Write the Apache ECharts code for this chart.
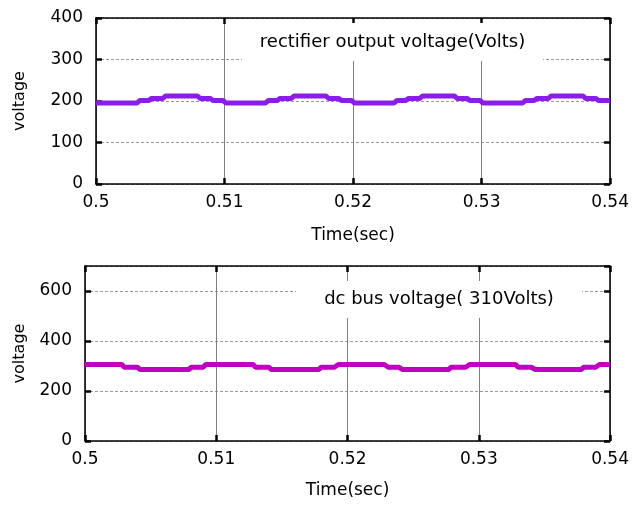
<!DOCTYPE html>
<html>
<head>
<meta charset="utf-8">
<script src="https://cdn.jsdelivr.net/npm/echarts@6/dist/echarts.min.js"></script>
<style>
  html, body { margin: 0; padding: 0; background: #fff; }
  #main { width: 632px; height: 506px; }
</style>
</head>
<body>
<div id="main"></div>
<script>
// x ticks shared by both plots
var timeTicks = [0.5, 0.51, 0.52, 0.53, 0.54];

// rectifier output voltage (top plot)
var recTime = [
  0.5000, 0.5032, 0.5034, 0.5041, 0.5043, 0.5052, 0.5054, 0.5079, 0.5081, 0.5089, 0.5091, 0.5099, 0.5101,
  0.5132, 0.5134, 0.5141, 0.5143, 0.5152, 0.5154, 0.5179, 0.5181, 0.5189, 0.5191, 0.5199, 0.5201,
  0.5232, 0.5234, 0.5241, 0.5243, 0.5252, 0.5254, 0.5279, 0.5281, 0.5289, 0.5291, 0.5299, 0.5301,
  0.5332, 0.5334, 0.5341, 0.5343, 0.5352, 0.5354, 0.5379, 0.5381, 0.5389, 0.5391, 0.5400
];
var recVolt = [
  195, 195, 201, 201, 206, 206, 212, 212, 206, 206, 201, 201, 195,
  195, 201, 201, 206, 206, 212, 212, 206, 206, 201, 201, 195,
  195, 201, 201, 206, 206, 212, 212, 206, 206, 201, 201, 195,
  195, 201, 201, 206, 206, 212, 212, 206, 206, 201, 201
];

// dc bus voltage (bottom plot)
var busTime = [
  0.5000, 0.5028, 0.5030, 0.5040, 0.5042, 0.5079, 0.5081, 0.5090, 0.5092,
  0.5128, 0.5130, 0.5140, 0.5142, 0.5178, 0.5180, 0.5190, 0.5193,
  0.5228, 0.5231, 0.5239, 0.5242, 0.5277, 0.5279, 0.5290, 0.5293,
  0.5328, 0.5330, 0.5340, 0.5343, 0.5378, 0.5380, 0.5389, 0.5392, 0.5400
];
var busVolt = [
  306, 306, 295, 295, 286, 286, 295, 295, 306,
  306, 295, 295, 286, 286, 295, 295, 306,
  306, 295, 295, 286, 286, 295, 295, 306,
  306, 295, 295, 286, 286, 295, 295, 306, 306
];

function pairs(xs, ys) {
  var out = [];
  for (var i = 0; i < xs.length; i++) out.push([xs[i], ys[i]]);
  return out;
}

var FONT = 'DejaVu Sans';
var frame = { show: true, onZero: false, lineStyle: { color: '#000', width: 1.5 } };
var ticks = { show: true, inside: true, length: 6, lineStyle: { color: '#000', width: 2.5 } };

function mainX(grid, gap) {
  return {
    type: 'value', gridIndex: grid, position: 'bottom',
    min: timeTicks[0], max: timeTicks[timeTicks.length - 1], interval: 0.01,
    name: 'Time(sec)', nameLocation: 'middle', nameGap: gap,
    nameTextStyle: { fontSize: 17, color: '#000', fontFamily: FONT },
    axisLine: frame, axisTick: ticks,
    axisLabel: { fontSize: 17, color: '#000', fontFamily: FONT, margin: 10 },
    splitLine: { show: true, lineStyle: { color: '#808080', width: 1 } }
  };
}
function topX(grid) {
  return {
    type: 'value', gridIndex: grid, position: 'top',
    min: 0.5, max: 0.54, interval: 0.01,
    axisLine: frame, axisTick: ticks,
    axisLabel: { show: false }, splitLine: { show: false }
  };
}
function mainY(grid, max, step, gap, hideMax) {
  return {
    type: 'value', gridIndex: grid, position: 'left',
    min: 0, max: max, interval: step,
    name: 'voltage', nameLocation: 'middle', nameGap: gap, nameRotate: 90,
    nameTextStyle: { fontSize: 16, color: '#000', fontFamily: FONT },
    axisLine: frame, axisTick: ticks,
    axisLabel: { fontSize: 17, color: '#000', fontFamily: FONT, margin: 13, showMaxLabel: !hideMax },
    splitLine: { show: true, lineStyle: { color: '#999', width: 1, type: [3, 2] } }
  };
}
function rightY(grid, max, step) {
  return {
    type: 'value', gridIndex: grid, position: 'right',
    min: 0, max: max, interval: step,
    axisLine: frame, axisTick: ticks,
    axisLabel: { show: false }, splitLine: { show: false }
  };
}

function noteBox(x, y, w, h, label) {
  return [
    { type: 'rect', z: 100, shape: { x: x, y: y, width: w, height: h },
      style: { fill: '#fff' } },
    { type: 'text', z: 101, x: x + w / 2, y: y + h / 2,
      style: { text: label, fontSize: 18, fontFamily: FONT, fill: '#000',
               align: 'center', verticalAlign: 'middle' } }
  ];
}

var option = {
  backgroundColor: '#fff',
  animation: false,
  textStyle: { fontFamily: FONT },
  grid: [
    { left: 96, right: 20, top: 18, height: 166 },
    { left: 85, right: 20, top: 266, height: 175 }
  ],
  xAxis: [mainX(0, 43), topX(0), mainX(1, 41), topX(1)],
  yAxis: [mainY(0, 400, 100, 68, false), rightY(0, 400, 100),
          mainY(1, 700, 200, 57, true), rightY(1, 700, 200)],
  graphic: noteBox(242, 23, 301, 38, 'rectifier output voltage(Volts)')
    .concat(noteBox(296, 281, 286, 37, 'dc bus voltage( 310Volts)')),
  series: [
    {
      type: 'line', xAxisIndex: 0, yAxisIndex: 0,
      data: pairs(recTime, recVolt),
      showSymbol: false, silent: true,
      lineStyle: { color: '#8a1ee8', width: 5 }
    },
    {
      type: 'line', xAxisIndex: 2, yAxisIndex: 2,
      data: pairs(busTime, busVolt),
      showSymbol: false, silent: true,
      lineStyle: { color: '#c000c0', width: 5 }
    }
  ]
};

var chart = echarts.init(document.getElementById('main'));
chart.setOption(option);
</script>
</body>
</html>
